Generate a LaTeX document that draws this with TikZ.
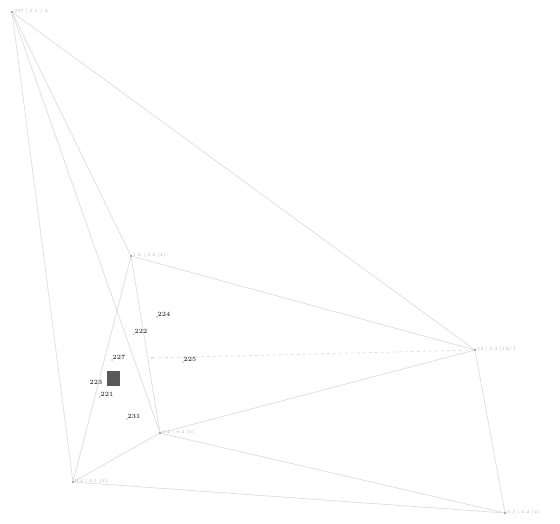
\documentclass[tikz,border=0pt]{standalone}
\begin{document}
\begin{tikzpicture}[x=1pt,y=-1pt,
  edge/.style={draw=black!12,line width=0.8pt},
  hub/.style={circle,fill=black!35,inner sep=0.9pt},
  hublabel/.style={anchor=west,text=black!30,font=\fontsize{4.5}{5}\selectfont,inner sep=1pt},
  small/.style={circle,fill=black!60,inner sep=0.4pt},
  smalllabel/.style={anchor=south west,text=black!70,font=\fontsize{6.5}{6.5}\selectfont\bfseries,inner sep=0.5pt}]
\useasboundingbox (0,0) rectangle (560,524);
% hubs
\node[hub] (A) at (12,12) {};
\node[hub] (B) at (131,256) {};
\node[hub] (C) at (475,350) {};
\node[hub] (D) at (160,433) {};
\node[hub] (E) at (73,482) {};
\node[hub] (F) at (505,513) {};
% small nodes
\node[small] (s1) at (157,317) {};
\node[small] (s2) at (134,334) {};
\node[small] (s3) at (112,360) {};
\node[small] (s4) at (100,397) {};
\node[small] (s5) at (183,362) {};
\node[small] (s6) at (127,419) {};
\node[small] (s7) at (152,358) {};
% edges
\draw[edge] (A) -- (C);
\draw[edge] (A) -- (E);
\draw[edge] (A) -- (B);
\draw[edge] (A) -- (D);
\draw[edge] (B) -- (C);
\draw[edge] (B) -- (D);
\draw[edge] (B) -- (E);
\draw[edge] (D) -- (C);
\draw[edge] (D) -- (F);
\draw[edge] (D) -- (E);
\draw[edge] (E) -- (F);
\draw[edge] (C) -- (F);
\draw[edge,dashed] (s7) -- (C);
% hub labels
\node[hublabel] (lA) at (A.north east) {297 | 0.1 / 4};
\node[hublabel] (lB) at (B.north east) {1.0 | 0.2 (4)};
\node[hublabel] (lC) at (C.north east) {14 | 0.3 (12) 1};
\node[hublabel] (lD) at (D.north east) {0.2 | 0.4 (5)};
\node[hublabel] (lE) at (E.north east) {0.4 | 0.1 (2)};
\node[hublabel] (lF) at (F.north east) {0.3 | 0.2 (4)};
% small labels
\node[smalllabel] (l1) at (s1) {224};
\node[smalllabel] (l2) at (s2) {222};
\node[smalllabel] (l3) at (s3) {227};
\fill[black!65] (107,371) rectangle (120,386);
\node[smalllabel] (l4c) at (89,385) {223};
\node[smalllabel] (l4a) at (s4) {221};
\node[smalllabel] (l5) at (s5) {225};
\node[smalllabel] (l6) at (s6) {231};
\end{tikzpicture}
\end{document}
